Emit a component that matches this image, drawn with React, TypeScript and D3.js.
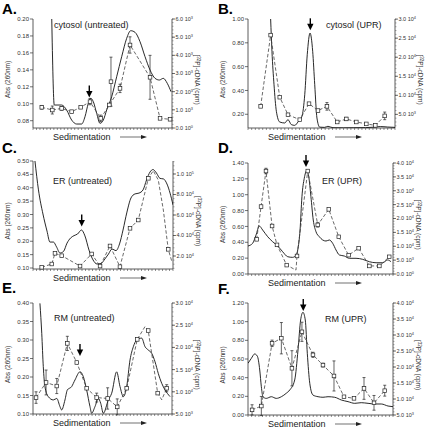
import React from "react";
import * as d3 from "d3";

type Pt = [number, number];
// [x position (% of fraction axis), cpm, error, marker(1/0)]
type Pm = [number, number, number, number];

const FONT = "'Liberation Sans', Arial, Helvetica, sans-serif";

// ---------- Panel A: cytosol (untreated) ----------
const aAbs: Pt[] = [[13.5,0.2],[15.3,0.0985],[20.6,0.0985],[24.2,0.0926],[27.8,0.0808],[31.4,0.0761],[35.0,0.0761],[37.4,0.0847],[39.8,0.1005],[41.5,0.1064],[43.4,0.1024],[45.8,0.0887],[48.2,0.0769],[50.6,0.0808],[53.0,0.0926],[56.6,0.1083],[60.2,0.1319],[63.8,0.1555],[67.4,0.1772],[70.3,0.1862],[73.4,0.1843],[77.0,0.1732],[80.6,0.1555],[84.2,0.1398],[87.8,0.13],[90.9,0.128],[93.7,0.13],[96.6,0.1241],[99.3,0.1142]];
const aCpm: Pm[] = [[6.3,1140,100,1],[13.9,990,220,1],[20.6,1080,100,1],[27.8,900,0,1],[34.3,1140,0,1],[41.0,1450,170,1],[48.7,530,180,1],[54.9,1270,0,1],[62.6,2180,230,1],[69.8,4570,450,1],[84.2,2790,1210,1],[91.4,530,0,1],[98.6,480,0,1]];
const aCpmExtra: Pm[] = [[56.1,2550,1350,1]];
const aLeftTicks = [0.08,0.10,0.12,0.14,0.16,0.18,0.20];
const aRightTicks = [0,1000,2000,3000,4000,5000,6000];
const aArrow: Pt = [40.5,0.1075];

// ---------- Panel B: cytosol (UPR) ----------
const bAbs: Pt[] = [[15.4,1.0],[16.3,0.729],[17.7,0.448],[19.3,0.225],[21.6,0.135],[25.0,0.127],[27.2,0.155],[29.5,0.113],[31.8,0.107],[34.0,0.135],[36.7,0.183],[38.6,0.364],[40.3,0.70],[42.2,0.882],[44.0,0.729],[45.4,0.448],[46.9,0.169],[48.8,0.092],[52,0.09],[54.4,0.099],[57.8,0.087],[65,0.086],[72,0.087],[80,0.088],[86,0.092],[90,0.097],[95,0.093],[100,0.09]];
const bCpm: Pm[] = [[8.6,7100,0,1],[15.4,25800,0,1],[21.6,9500,0,1],[27.2,4900,0,1],[35.2,3600,0,1],[41.5,7800,0,1],[47.6,6000,0,1],[53.7,7100,1000,1],[60.7,3000,0,1],[66.9,3800,400,1],[73.7,3000,0,1],[80.5,2500,0,1],[86.6,2100,0,1],[93.0,4600,1000,1]];
const bLeftTicks = [0.20,0.40,0.60,0.80,1.00];
const bRightTicks = [5000,10000,15000,20000,25000,30000];
const bArrow: Pt = [42.4,0.905];

// ---------- Panel C: ER (untreated) ----------
const cAbs: Pt[] = [[1.4,0.5],[3.9,0.392],[7.1,0.302],[10.0,0.238],[12.1,0.197],[14.6,0.197],[16.8,0.179],[19.3,0.156],[21.8,0.162],[24.3,0.193],[26.8,0.212],[29.3,0.221],[31.8,0.227],[34.6,0.242],[37.1,0.22],[40.0,0.167],[42.9,0.13],[45.7,0.115],[48.6,0.117],[51.4,0.134],[53.9,0.152],[56.4,0.171],[59.3,0.165],[61.8,0.19],[64.3,0.242],[67.1,0.309],[70.0,0.362],[72.9,0.377],[75.7,0.38],[78.6,0.392],[81.1,0.429],[83.6,0.459],[85.7,0.468],[88.2,0.455],[90.7,0.435],[93.2,0.433],[95.7,0.414],[97.9,0.38],[100,0.336]];
const cCpm: Pm[] = [[6.2,9000,0,1],[13.4,12200,0,1],[15.7,22600,0,1],[20.5,20300,0,1],[33.6,10200,0,1],[41.9,22000,0,1],[47.9,10200,0,1],[55.0,29800,0,1],[62.1,9600,0,1],[69.3,47000,0,1],[75.2,55100,0,1],[82.4,95800,0,1],[85.9,103200,0,0],[89.5,94100,0,0],[93.1,64900,0,0],[96.6,26500,0,1],[99.3,14100,0,0]];
const cLeftTicks = [0.10,0.15,0.20,0.25,0.30,0.35,0.40,0.45,0.50];
const cRightTicks = [20000,40000,60000,80000,100000];
const cArrow: Pt = [34.8,0.255];

// ---------- Panel D: ER (UPR) ----------
const dAbs: Pt[] = [[0,0.353],[3.2,0.387],[5.5,0.49],[7.8,0.605],[10.1,0.555],[13.6,0.47],[17.0,0.407],[20.5,0.353],[23.9,0.281],[27.4,0.218],[30.8,0.21],[33.1,0.24],[34.3,0.303],[35.9,0.555],[37.2,0.975],[38.8,1.207],[40.5,1.30],[41.9,1.227],[43.4,0.975],[45.0,0.681],[46.9,0.533],[49.2,0.47],[51.5,0.429],[53.8,0.416],[56.1,0.429],[58.4,0.387],[60.7,0.303],[63.0,0.24],[66.4,0.227],[69.9,0.198],[74.5,0.198],[79.1,0.185],[83.7,0.155],[88.3,0.142],[92.9,0.142],[96.3,0.177],[98.6,0.155]];
const dCpm: Pm[] = [[6.0,12500,0,1],[9.0,24300,0,1],[12.4,37100,1000,1],[16.6,17300,0,1],[20.0,10500,0,1],[26.7,3200,0,1],[33.1,1400,0,0],[33.8,6500,0,1],[41.2,37100,0,1],[48.1,17700,800,1],[55.7,23300,0,1],[62.6,13400,0,1],[69.4,6800,0,1],[76.3,9300,0,1],[83.7,2900,0,1],[90.6,2900,0,1],[97.4,6200,0,1]];
const dLeftTicks = [0,0.2,0.4,0.6,0.8,1.0,1.2,1.4];
const dRightTicks = [0,5000,10000,15000,20000,25000,30000,35000,40000];
const dArrow: Pt = [40.0,1.35];

// ---------- Panel E: RM (untreated) ----------
const eAbs: Pt[] = [[5.0,0.399],[6.3,0.318],[7.4,0.228],[8.6,0.174],[11.0,0.147],[14.6,0.138],[17.1,0.142],[19.4,0.12],[20.6,0.111],[23.0,0.138],[24.7,0.165],[27.8,0.174],[30.2,0.192],[33.8,0.214],[36.2,0.201],[38.6,0.165],[41.0,0.12],[42.2,0.102],[44.6,0.12],[47.0,0.142],[48.7,0.129],[50.6,0.102],[54.2,0.138],[56.6,0.156],[60.2,0.214],[62.6,0.174],[65.0,0.147],[67.4,0.174],[69.8,0.246],[72.2,0.282],[74.6,0.30],[78.2,0.305],[80.6,0.282],[82.9,0.273],[85.4,0.264],[87.8,0.241],[90.1,0.21],[92.6,0.183],[95.0,0.165],[98.6,0.147]];
const eCpm: Pm[] = [[2.2,8700,1300,1],[9.4,12100,2800,1],[17.1,11300,1700,1],[24.7,20900,1600,1],[31.5,16600,0,1],[38.6,10800,0,1],[45.8,8700,1000,1],[53.7,8500,2400,1],[60.6,6600,1800,1],[67.4,10800,0,1],[75.0,21800,0,1],[80.6,24700,0,0],[82.9,23800,0,1],[89.7,9700,0,1],[92.6,8200,0,0],[96.2,10800,800,1]];
const eLeftTicks = [0.10,0.15,0.20,0.25,0.30,0.35,0.40];
const eRightTicks = [5000,10000,15000,20000,25000,30000];
const eArrow: Pt = [33.8,0.257];

// ---------- Panel F: RM (UPR) ----------
const fAbs: Pt[] = [[0,0.554],[2.3,0.607],[4.6,0.654],[6.4,0.632],[8.1,0.482],[9.2,0.303],[10.3,0.196],[12.6,0.178],[16.1,0.196],[19.5,0.178],[23.0,0.196],[26.4,0.233],[28.8,0.268],[32.2,0.375],[34.5,0.697],[36.3,1.018],[37.9,1.10],[39.5,1.018],[40.9,0.661],[42.6,0.34],[44.8,0.214],[48.3,0.196],[51.7,0.19],[55.2,0.196],[59.8,0.19],[64.3,0.161],[69.0,0.143],[73.6,0.125],[78.1,0.132],[82.8,0.125],[87.4,0.118],[91.9,0.118],[96.6,0.096],[100,0.089]];
const fCpm: Pm[] = [[2.8,6600,1600,1],[9.2,7800,3000,1],[16.6,27400,1000,1],[23.0,29000,4900,1],[30.3,19600,5500,1],[37.2,31000,3000,1],[44.8,23800,800,1],[51.7,20600,600,1],[59.3,17200,4700,1],[66.2,10700,0,1],[73.1,10200,0,1],[80.0,13300,3400,1],[86.9,8800,2300,1],[94.3,12600,1700,1]];
const fLeftTicks = [0,0.2,0.4,0.6,0.8,1.0,1.2];
const fRightTicks = [5000,10000,15000,20000,25000,30000,35000,40000];
const fArrow: Pt = [38.1,1.115];

interface PanelProps {
  id: string;
  letter: string;
  title: string;
  x0: number; x1: number; yTop: number; yBot: number;
  lDom: [number, number]; rDom: [number, number];
  lTicks: number[]; rTicks: number[];
  lFmt: (v: number) => string;
  abs: Pt[]; cpm: Pm[]; extra?: Pm[];
  arrow: Pt;
  letterPos: [number, number];
  titlePos: [number, number];
}

function expParts(v: number): [string, string] {
  if (v === 0) return ["0.0", "0"];
  const e = Math.floor(Math.log10(v) + 1e-9);
  const m = v / Math.pow(10, e);
  return [m.toFixed(1), String(e)];
}

function Panel(p: PanelProps) {
  const x = d3.scaleLinear().domain([0, 100]).range([p.x0, p.x1]);
  const yL = d3.scaleLinear().domain(p.lDom).range([p.yBot, p.yTop]);
  const yR = d3.scaleLinear().domain(p.rDom).range([p.yBot, p.yTop]);
  const absPath = d3.line<Pt>().x(d => x(d[0])).y(d => yL(d[1])).curve(d3.curveMonotoneX)(p.abs) || "";
  const cpmPath = d3.line<Pm>().x(d => x(d[0])).y(d => yR(d[1]))(p.cpm) || "";
  const step = p.rTicks[1] - p.rTicks[0];
  const minor = d3.range(p.rTicks[0] - step, p.rDom[1] + step / 10, step / 5)
    .filter(v => v >= p.rDom[0] - 1e-6 && v <= p.rDom[1] + 1e-6);
  const bottomTicks = d3.range(0, 100.01, 2.5);
  const markers = [...p.cpm.filter(d => d[3] === 1), ...(p.extra || [])];
  const cy = (p.yTop + p.yBot) / 2 + 6;
  const ax = x(p.arrow[0]);
  const ay = yL(p.arrow[1]);
  const sedY = p.yBot + 12;
  const arrY = p.yBot + 9;
  return (
    <g>
      <defs>
        <clipPath id={"clip" + p.id}>
          <rect x={p.x0} y={p.yTop - 1} width={p.x1 - p.x0} height={p.yBot - p.yTop + 1} />
        </clipPath>
      </defs>
      <text x={p.letterPos[0]} y={p.letterPos[1]} fontSize={15} fontWeight="bold" fontFamily={FONT} fill="#000">{p.letter}</text>
      {/* axes */}
      <line x1={p.x0} x2={p.x0} y1={p.yTop} y2={p.yBot} stroke="#333" strokeWidth={0.8} />
      <line x1={p.x1} x2={p.x1} y1={p.yTop} y2={p.yBot} stroke="#333" strokeWidth={0.8} />
      <line x1={p.x0} x2={p.x1} y1={p.yBot} y2={p.yBot} stroke="#333" strokeWidth={0.8} />
      {bottomTicks.map((t, i) => (
        <line key={"b" + i} x1={x(t)} x2={x(t)} y1={p.yBot} y2={p.yBot + 2} stroke="#444" strokeWidth={0.6} />
      ))}
      {p.lTicks.map((t, i) => (
        <g key={"l" + i}>
          <line x1={p.x0 - 3} x2={p.x0} y1={yL(t)} y2={yL(t)} stroke="#333" strokeWidth={0.7} />
          <text x={p.x0 - 4} y={yL(t)} dy="0.35em" textAnchor="end" fontSize={6} fontFamily={FONT} fill="#333">{p.lFmt(t)}</text>
        </g>
      ))}
      {minor.map((t, i) => (
        <line key={"m" + i} x1={p.x1} x2={p.x1 + 1.5} y1={yR(t)} y2={yR(t)} stroke="#555" strokeWidth={0.5} />
      ))}
      {p.rTicks.map((t, i) => {
        const [m, e] = expParts(t);
        return (
          <g key={"r" + i}>
            <line x1={p.x1} x2={p.x1 + 3} y1={yR(t)} y2={yR(t)} stroke="#333" strokeWidth={0.7} />
            <text x={p.x1 + 3.5} y={yR(t)} dy="0.35em" fontSize={5.5} fontFamily={FONT} fill="#333">
              {m + " 10"}<tspan fontSize={3.8} dy={-2}>{e}</tspan>
            </text>
          </g>
        );
      })}
      {/* axis titles */}
      <text transform={`translate(${p.x0 - 23},${cy}) rotate(-90)`} textAnchor="middle" fontSize={6.5} fontFamily={FONT} fill="#333">Abs (260nm)</text>
      <text transform={`translate(${p.x1 + 23},${cy}) rotate(90)`} textAnchor="middle" fontSize={6.5} fontFamily={FONT} fill="#333">
        {"["}<tspan fontSize={4.5} dy={-2.2}>32</tspan><tspan dy={2.2}>P]-cDNA (cpm)</tspan>
      </text>
      <text x={p.x0 + 20} y={sedY} fontSize={9} fontFamily={FONT} fill="#222">Sedimentation</text>
      <line x1={p.x0 + 87} x2={p.x0 + 109} y1={arrY} y2={arrY} stroke="#333" strokeWidth={0.7} />
      <path d={`M${p.x0 + 114},${arrY} L${p.x0 + 108},${arrY - 2} L${p.x0 + 108},${arrY + 2} Z`} fill="#222" />
      <text x={p.titlePos[0]} y={p.titlePos[1]} fontSize={9} fontFamily={FONT} fill="#222">{p.title}</text>
      {/* data */}
      <path d={absPath} fill="none" stroke="#111" strokeWidth={0.9} clipPath={`url(#clip${p.id})`} />
      <path d={cpmPath} fill="none" stroke="#444" strokeWidth={0.8} strokeDasharray="3.5,2" />
      {markers.filter(d => d[2] > 0).map((d, i) => {
        const xx = x(d[0]);
        const y1 = yR(d[1] - d[2]);
        const y2 = yR(d[1] + d[2]);
        return (
          <g key={"e" + i} stroke="#222" strokeWidth={0.7}>
            <line x1={xx} x2={xx} y1={y1} y2={y2} />
            <line x1={xx - 1.5} x2={xx + 1.5} y1={y1} y2={y1} />
            <line x1={xx - 1.5} x2={xx + 1.5} y1={y2} y2={y2} />
          </g>
        );
      })}
      {markers.map((d, i) => (
        <rect key={"s" + i} x={x(d[0]) - 1.8} y={yR(d[1]) - 1.8} width={3.6} height={3.6} fill="#fff" stroke="#222" strokeWidth={0.7} />
      ))}
      {/* arrow */}
      <line x1={ax} x2={ax} y1={ay - 12} y2={ay - 5} stroke="#000" strokeWidth={1.4} />
      <path d={`M${ax - 3.2},${ay - 6.5} L${ax + 3.2},${ay - 6.5} L${ax},${ay} Z`} fill="#000" />
    </g>
  );
}

const f2 = (v: number) => v.toFixed(2);

export default function App() {
  return (
    <svg width={432} height={428} style={{ position: "absolute", left: 0, top: 0, display: "block", background: "#fff" }}>
      <rect x={0} y={0} width={432} height={428} fill="#fff" />
      <Panel id="A" letter="A." title="cytosol (untreated)" x0={33} x1={172} yTop={19} yBot={128}
        lDom={[0.0714, 0.2]} rDom={[0, 6000]} lTicks={aLeftTicks} rTicks={aRightTicks} lFmt={f2}
        abs={aAbs} cpm={aCpm} extra={aCpmExtra} arrow={aArrow} letterPos={[2, 14]} titlePos={[54, 28]} />
      <Panel id="B" letter="B." title="cytosol (UPR)" x0={248} x1={395} yTop={19} yBot={128}
        lDom={[0.0848, 1.0]} rDom={[1420, 30030]} lTicks={bLeftTicks} rTicks={bRightTicks} lFmt={f2}
        abs={bAbs} cpm={bCpm} arrow={bArrow} letterPos={[218, 14]} titlePos={[326, 28]} />
      <Panel id="C" letter="C." title="ER (untreated)" x0={33} x1={173} yTop={161} yBot={269}
        lDom={[0.0963, 0.5]} rDom={[7320, 112680]} lTicks={cLeftTicks} rTicks={cRightTicks} lFmt={f2}
        abs={cAbs} cpm={cCpm} arrow={cArrow} letterPos={[2, 153]} titlePos={[53, 184]} />
      <Panel id="D" letter="D." title="ER (UPR)" x0={248} x1={393} yTop={163} yBot={274}
        lDom={[0, 1.4]} rDom={[0, 40000]} lTicks={dLeftTicks} rTicks={dRightTicks} lFmt={f2}
        abs={dAbs} cpm={dCpm} arrow={dArrow} letterPos={[218, 153]} titlePos={[322, 184]} />
      <Panel id="E" letter="E." title="RM (untreated)" x0={33} x1={172} yTop={303} yBot={414}
        lDom={[0.1, 0.4]} rDom={[5000, 30000]} lTicks={eLeftTicks} rTicks={eRightTicks} lFmt={f2}
        abs={eAbs} cpm={eCpm} arrow={eArrow} letterPos={[2, 293]} titlePos={[54, 321]} />
      <Panel id="F" letter="F." title="RM (UPR)" x0={248} x1={393} yTop={303} yBot={415}
        lDom={[0, 1.2]} rDom={[5000, 40000]} lTicks={fLeftTicks} rTicks={fRightTicks} lFmt={f2}
        abs={fAbs} cpm={fCpm} arrow={fArrow} letterPos={[218, 294]} titlePos={[325, 322]} />
    </svg>
  );
}
